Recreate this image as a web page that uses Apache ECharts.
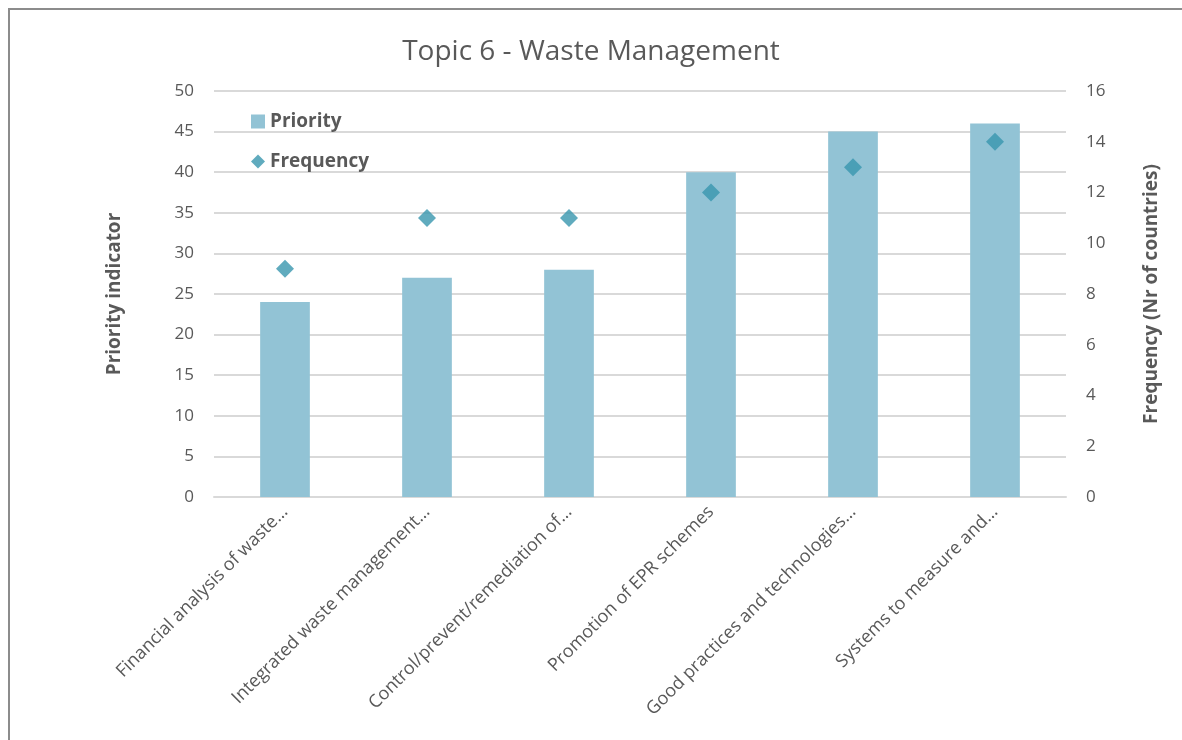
<!DOCTYPE html>
<html>
<head>
<meta charset="utf-8">
<script src="https://cdn.jsdelivr.net/npm/echarts@6/dist/echarts.min.js"></script>
<style>
  html, body { margin: 0; padding: 0; background: #fff; }
  #main { width: 1182px; height: 740px; }
</style>
</head>
<body>
<div id="main"></div>
<script>
// data
let categories = [
    'Financial analysis of waste…',
    'Integrated waste management…',
    'Control/prevent/remediation of…',
    'Promotion of EPR schemes',
    'Good practices and technologies…',
    'Systems to measure and…'
];
let priority = [24, 27, 28, 40, 45, 46];
let frequency = [9, 11, 11, 12, 13, 14];

let textColor = '#595959';
let font = '"Open Sans", sans-serif';

let myChart = echarts.init(document.getElementById('main'));
let option = {
    backgroundColor: '#fff',
    textStyle: { fontFamily: font },
    graphic: [{
        type: 'rect',
        shape: { x: 9, y: 9, width: 1200, height: 800 },
        style: { fill: 'none', stroke: '#8c8c8c', lineWidth: 2 },
        silent: true
    }],
    title: {
        text: 'Topic 6 - Waste Management',
        left: 'center',
        top: 33,
        textStyle: { color: textColor, fontSize: 28, fontWeight: 'normal', fontFamily: font }
    },
    legend: {
        orient: 'vertical',
        left: 246,
        top: 107,
        itemGap: 21,
        itemWidth: 14,
        itemHeight: 14,
        textStyle: { color: textColor, fontSize: 19, fontWeight: 'bold', fontFamily: font },
        data: [
            { name: 'Priority', icon: 'rect' },
            { name: 'Frequency', icon: 'diamond' }
        ]
    },
    grid: { left: 214, right: 116, top: 91, bottom: 243, containLabel: false },
    xAxis: {
        type: 'category',
        data: categories,
        axisLine: { lineStyle: { color: '#d9d9d9', width: 2 } },
        axisTick: { show: false },
        axisLabel: {
            rotate: 45,
            color: textColor,
            fontSize: 18,
            fontFamily: font,
            margin: 12,
            interval: 0
        }
    },
    yAxis: [{
        type: 'value',
        min: 0, max: 50, interval: 5,
        name: 'Priority indicator',
        nameLocation: 'middle',
        nameGap: 90,
        nameTextStyle: { color: textColor, fontSize: 19, fontWeight: 'bold', fontFamily: font },
        axisLine: { show: false },
        axisTick: { show: false },
        axisLabel: { color: textColor, fontSize: 17, fontFamily: font, margin: 20 },
        splitLine: { lineStyle: { color: '#d9d9d9', width: 2 } }
    }, {
        type: 'value',
        min: 0, max: 16, interval: 2,
        name: 'Frequency (Nr of countries)',
        nameLocation: 'middle',
        nameGap: 76,
        nameTextStyle: { color: textColor, fontSize: 19, fontWeight: 'bold', fontFamily: font },
        axisLine: { show: false },
        axisTick: { show: false },
        axisLabel: { color: textColor, fontSize: 17, fontFamily: font, margin: 20 },
        splitLine: { show: false }
    }],
    series: [{
        name: 'Priority',
        type: 'bar',
        barWidth: '35%',
        itemStyle: { color: '#92c3d5' },
        data: priority
    }, {
        name: 'Frequency',
        type: 'scatter',
        yAxisIndex: 1,
        symbol: 'diamond',
        symbolSize: 18,
        itemStyle: { color: '#3896ae' },
        data: frequency
    }]
};
myChart.setOption(option);
</script>
</body>
</html>
